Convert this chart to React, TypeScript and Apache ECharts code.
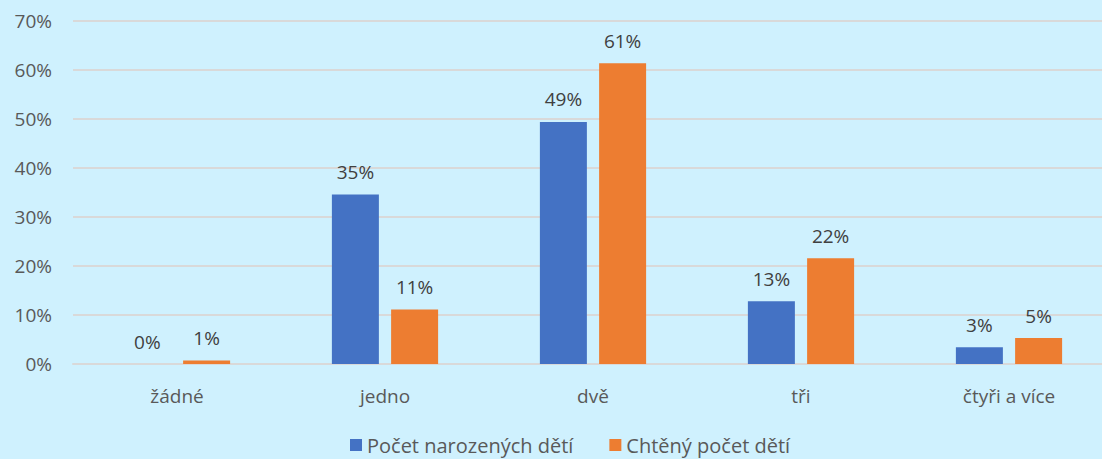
import React, { useEffect, useRef } from "react";
import * as echarts from "echarts";

const categories = ["žádné", "jedno", "dvě", "tři", "čtyři a více"];
const seriesNames = ["Počet narozených dětí", "Chtěný počet dětí"];
const bornValues = [0, 34.6, 49.4, 12.8, 3.4];
const wantedValues = [0.7, 11.1, 61.4, 21.6, 5.3];
const yTicks = [0, 10, 20, 30, 40, 50, 60, 70];

const FONT = "'Open Sans', 'Noto Sans', sans-serif";

export default function App() {
  const ref = useRef<HTMLDivElement>(null);
  useEffect(() => {
    if (!ref.current) return;
    const chart = echarts.init(ref.current, undefined, { renderer: "svg" });
    const label = {
      show: true,
      position: "top" as const,
      distance: 13,
      color: "#404040",
      fontSize: 19,
      fontFamily: FONT,
      formatter: (p: any) => Math.round(p.value) + "%",
    };
    chart.setOption({
      animation: false,
      backgroundColor: "#cff1fe",
      textStyle: { fontFamily: FONT },
      grid: { left: 73, right: 0, top: 21, height: 343 },
      legend: {
        bottom: -1,
        left: 345,
        itemWidth: 12,
        itemHeight: 12,
        itemGap: 36,
        icon: "rect",
        textStyle: { color: "#595959", fontSize: 20, fontFamily: FONT },
        data: seriesNames,
      },
      xAxis: {
        type: "category",
        data: categories,
        axisLine: { show: true, lineStyle: { color: "#d9d9d9", width: 2 } },
        axisTick: { show: false },
        axisLabel: { color: "#595959", fontSize: 19, margin: 22, fontFamily: FONT },
      },
      yAxis: {
        type: "value",
        min: yTicks[0],
        max: yTicks[yTicks.length - 1],
        interval: 10,
        axisLine: { show: false },
        axisTick: { show: false },
        splitLine: { lineStyle: { color: "#d9d9d9", width: 2 } },
        axisLabel: {
          color: "#595959",
          fontSize: 19,
          margin: 21,
          fontFamily: FONT,
          formatter: (v: number) => v + "%",
        },
      },
      series: [
        {
          name: seriesNames[0],
          type: "bar",
          data: bornValues,
          barWidth: 47,
          barGap: "26%",
          itemStyle: { color: "#4472c4" },
          label,
        },
        {
          name: seriesNames[1],
          type: "bar",
          data: wantedValues,
          barWidth: 47,
          barGap: "26%",
          itemStyle: { color: "#ed7d31" },
          label,
        },
      ],
    });
    return () => chart.dispose();
  }, []);
  return (
    <div
      style={{
        position: "absolute",
        left: 0,
        top: 0,
        width: 1102,
        height: 459,
        overflow: "hidden",
        background: "#cff1fe",
      }}
    >
      <div ref={ref} style={{ width: 1113, height: 459 }} />
    </div>
  );
}
